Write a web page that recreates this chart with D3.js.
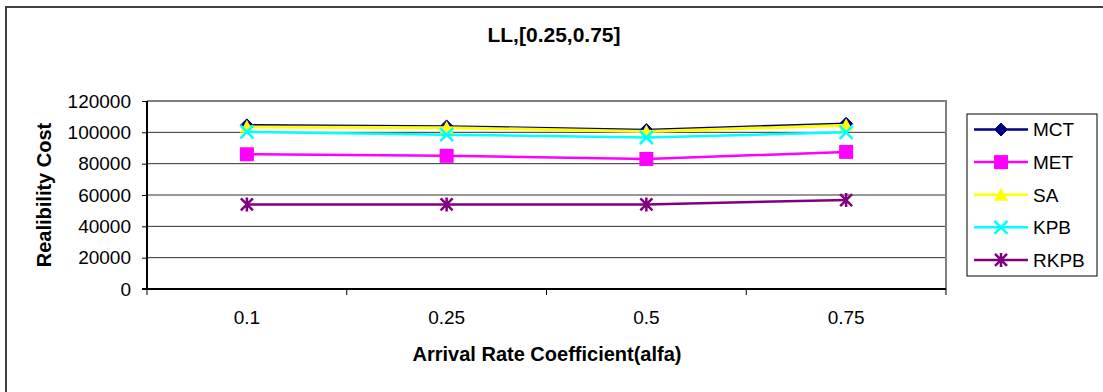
<!DOCTYPE html>
<html>
<head>
<meta charset="utf-8">
<script src="https://cdn.jsdelivr.net/npm/d3@7"></script>
<style>
  body { margin: 0; background: white; }
  #container { width: 1103px; height: 392px; }
  text { font-family: 'Liberation Sans', Arial, sans-serif; }
</style>
</head>
<body>
<div id="container"></div>
<script>
let w = 1103,
    h = 392;

// chart data
let categories = ['0.1', '0.25', '0.5', '0.75'];
let seriesNames = ['MCT', 'MET', 'SA', 'KPB', 'RKPB'];
let mct  = [104500, 103800, 101500, 105500];
let met  = [86000, 85000, 83000, 87500];
let sa   = [103500, 103000, 100500, 104500];
let kpb  = [100300, 98500, 96700, 100000];
let rkpb = [54000, 54000, 54000, 56800];
let yTicks = [0, 20000, 40000, 60000, 80000, 100000, 120000];

let seriesValues = [mct, met, sa, kpb, rkpb];
let colors = ['#000080', '#FF00FF', '#FFFF00', '#00FFFF', '#800080'];
let shapes = ['diamond', 'square', 'triangle', 'cross', 'star'];

let viz = d3.select('#container')
    .append('svg')
      .attr('width', w)
      .attr('height', h)
      .style('background', 'white');

let pLeft = 147, pRight = 946, pTop = 101, pBottom = 289;

let x = d3.scaleBand().domain(categories).range([pLeft, pRight]).padding(0);
let y = d3.scaleLinear().domain([0, 120000]).range([pBottom, pTop]);

function drawMarker(g, shape, color) {
    if (shape === 'diamond') {
        g.append('path').attr('d', 'M0,-6.5L6.5,0L0,6.5L-6.5,0Z')
            .attr('fill', color).attr('stroke', color).attr('stroke-width', 1);
    } else if (shape === 'square') {
        g.append('rect').attr('x', -7).attr('y', -7).attr('width', 14).attr('height', 14)
            .attr('fill', color);
    } else if (shape === 'triangle') {
        g.append('path').attr('d', 'M0,-7L7,6L-7,6Z')
            .attr('fill', color);
    } else if (shape === 'cross') {
        g.append('path').attr('d', 'M-6.5,-6.5L6.5,6.5M-6.5,6.5L6.5,-6.5')
            .attr('stroke', color).attr('stroke-width', 2.5).attr('fill', 'none');
    } else if (shape === 'star') {
        g.append('path').attr('d', 'M-6,-6L6,6M-6,6L6,-6M0,-7L0,7')
            .attr('stroke', color).attr('stroke-width', 2.5).attr('fill', 'none');
    }
}

function main() {
    // outer frame
    viz.append('rect')
        .attr('x', 6).attr('y', 7)
        .attr('width', 1200).attr('height', 500)
        .attr('fill', 'none')
        .attr('stroke', '#404040')
        .attr('stroke-width', 2);

    // title
    viz.append('text')
        .attr('x', 554).attr('y', 42)
        .attr('text-anchor', 'middle')
        .attr('font-size', 21)
        .attr('font-weight', 'bold')
        .text('LL,[0.25,0.75]');

    // grid lines
    viz.append('g').selectAll('line').data(yTicks.filter(d => d > 0 && d < 120000))
      .enter().append('line')
        .attr('x1', pLeft).attr('x2', pRight)
        .attr('y1', d => y(d)).attr('y2', d => y(d))
        .attr('stroke', '#303030')
        .attr('stroke-width', 1);

    // plot border (top, right)
    viz.append('path')
        .attr('d', 'M' + pLeft + ',' + pTop + 'L' + pRight + ',' + pTop + 'L' + pRight + ',' + pBottom)
        .attr('fill', 'none')
        .attr('stroke', '#808080')
        .attr('stroke-width', 2);

    // y axis
    let yAxis = viz.append('g')
        .attr('transform', 'translate(' + pLeft + ',0)')
        .call(d3.axisLeft(y).tickValues(yTicks).tickSize(5).tickPadding(11).tickFormat(d3.format('d')));
    yAxis.select('.domain').remove();
    yAxis.selectAll('line').attr('stroke', '#000');
    yAxis.selectAll('text').attr('font-size', 19).attr('font-family', "'Liberation Sans', Arial, sans-serif").attr('fill', '#000');
    viz.append('line')
        .attr('x1', pLeft).attr('x2', pLeft)
        .attr('y1', pTop).attr('y2', pBottom)
        .attr('stroke', '#000').attr('stroke-width', 2);

    // x axis
    let xAxis = viz.append('g')
        .attr('transform', 'translate(0,' + pBottom + ')')
        .call(d3.axisBottom(x).tickSize(0).tickPadding(22));
    xAxis.select('.domain').remove();
    xAxis.selectAll('text').attr('font-size', 19).attr('font-family', "'Liberation Sans', Arial, sans-serif").attr('fill', '#000');
    let edges = categories.map(c => x(c)).concat([x(categories[categories.length - 1]) + x.bandwidth()]);
    viz.append('g').selectAll('line').data(edges)
      .enter().append('line')
        .attr('x1', d => d).attr('x2', d => d)
        .attr('y1', pBottom).attr('y2', pBottom + 6)
        .attr('stroke', '#000');
    viz.append('line')
        .attr('x1', pLeft - 5).attr('x2', pRight)
        .attr('y1', pBottom).attr('y2', pBottom)
        .attr('stroke', '#000').attr('stroke-width', 2);

    // axis titles
    viz.append('text')
        .attr('transform', 'translate(51,195) rotate(-90)')
        .attr('text-anchor', 'middle')
        .attr('font-size', 20)
        .attr('font-weight', 'bold')
        .text('Realibility Cost');
    viz.append('text')
        .attr('x', 547).attr('y', 361)
        .attr('text-anchor', 'middle')
        .attr('font-size', 20)
        .attr('font-weight', 'bold')
        .text('Arrival Rate Coefficient(alfa)');

    // series
    let line = d3.line()
        .x((d, i) => x(categories[i]) + x.bandwidth() / 2)
        .y(d => y(d));

    seriesValues.forEach((vals, si) => {
        let g = viz.append('g');
        g.append('path')
            .attr('d', line(vals))
            .attr('fill', 'none')
            .attr('stroke', colors[si])
            .attr('stroke-width', si === 2 ? 3 : 2.5);
        vals.forEach((v, i) => {
            let m = g.append('g')
                .attr('transform', 'translate(' + (x(categories[i]) + x.bandwidth() / 2) + ',' + y(v) + ')');
            drawMarker(m, shapes[si], colors[si]);
        });
    });

    // legend
    let legend = viz.append('g');
    legend.append('rect')
        .attr('x', 967).attr('y', 114)
        .attr('width', 130).attr('height', 162)
        .attr('fill', 'white')
        .attr('stroke', '#000')
        .attr('stroke-width', 1);
    seriesNames.forEach((name, i) => {
        let ly = 129.5 + i * 32.6;
        legend.append('line')
            .attr('x1', 974).attr('x2', 1028)
            .attr('y1', ly).attr('y2', ly)
            .attr('stroke', colors[i])
            .attr('stroke-width', 2.5);
        let m = legend.append('g').attr('transform', 'translate(1001,' + ly + ')');
        drawMarker(m, shapes[i], colors[i]);
        legend.append('text')
            .attr('x', 1033).attr('y', ly)
            .attr('dy', '0.36em')
            .attr('font-size', 19)
            .text(name);
    });
}

main();
</script>
</body>
</html>
